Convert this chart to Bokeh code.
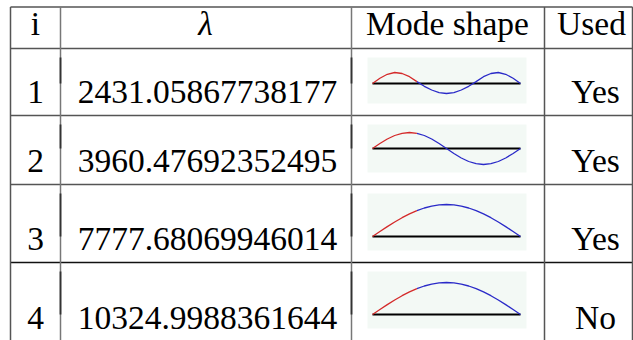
from bokeh.plotting import figure
from bokeh.models import Range1d
from bokeh.embed import file_html
from bokeh.resources import INLINE
from bokeh.core.properties import value

# ---- data ----
headers = ["i", "λ", "Mode shape", "Used"]
mode_index = ["1", "2", "3", "4"]
eigenvalues = ["2431.05867738177", "3960.47692352495", "7777.68069946014", "10324.9988361644"]
used = ["Yes", "Yes", "Yes", "No"]
# mode shape samples (thumbnail px, up positive) at 21 evenly spaced stations
shape_1 = [0, 5.2, 9.2, 11, 10, 6.8, 1.9, -2.8, -6.5, -9.1, -10, -9.1, -6.5, -2.8, 1.9, 6.8, 10, 11, 9.2, 5.2, 0]
shape_2 = [0, 5, 9.5, 13, 15.2, 16, 15.2, 13, 9.5, 5, 0, -5, -9.5, -13, -15.2, -16, -15.2, -13, -9.5, -5, 0]
shape_3 = [0, 5, 9.9, 14.5, 18.8, 22.6, 25.9, 28.5, 30.4, 31.6, 32, 31.6, 30.4, 28.5, 25.9, 22.6, 18.8, 14.5, 9.9, 5, 0]
shape_4 = [0, 5, 9.9, 14.5, 18.8, 22.6, 25.9, 28.5, 30.4, 31.6, 32, 31.6, 30.4, 28.5, 25.9, 22.6, 18.8, 14.5, 9.9, 5, 0]
shapes = [shape_1, shape_2, shape_3, shape_4]
red_until = 6  # station index where the red part ends

# ---- layout ----
W, H = 633, 340
col_edges = [10, 60, 351, 544, 632]
row_edges = [6.5, 48, 115, 184, 262, 341]
header_baseline = 23
row_baseline_gap = 24
col_text_x = [35, 207, 447, 595]
header_text_x = [35, 205, 447, 591]
thumb_x0, thumb_x1 = 367, 526
curve_x0, curve_x1 = 372, 520
thumb_line_y = [83, 148, 236, 314]
thumb_top = [57, 124, 193, 271]
thumb_bottom = [103, 172, 250, 328]
FONT = "Liberation Serif"
FS = "33.5px"

p = figure(width=W, height=H, x_range=Range1d(0, W), y_range=Range1d(H, 0),
           output_backend="svg", toolbar_location=None, min_border=0)
p.axis.visible = False
p.grid.visible = False
p.outline_line_color = None
p.background_fill_color = "white"
p.border_fill_color = "white"

# thumbnails background
p.quad(left=[thumb_x0] * 4, right=[thumb_x1] * 4, top=thumb_top, bottom=thumb_bottom,
       fill_color="#f3f9f5", line_color=None)

# table lines
for k, y in enumerate(row_edges[:-1]):
    color = "#111111" if k == 4 else "#555555"
    p.segment(x0=[col_edges[0]], x1=[col_edges[-1]], y0=[y], y1=[y], line_color=color, line_width=1.6)
for k, x in enumerate(col_edges):
    color = "#777777" if k in (1, 2) else "#555555"
    p.segment(x0=[x], x1=[x], y0=[row_edges[0]], y1=[H + 2], line_color=color, line_width=1.5)
# darker strut stubs on inner column lines
for x in (col_edges[1], col_edges[2]):
    p.segment(x0=[x] * 4, x1=[x] * 4, y0=thumb_top, y1=thumb_line_y,
              line_color="#333333", line_width=1.8)

# mode shapes
n = len(shape_1)
xs_all = [curve_x0 + (curve_x1 - curve_x0) * k / (n - 1) for k in range(n)]
for r, shp in enumerate(shapes):
    ly = thumb_line_y[r]
    p.line([curve_x0, curve_x1], [ly, ly], line_color="black", line_width=1.8)
    ys = [ly - v for v in shp]
    p.line(xs_all[red_until:], ys[red_until:], line_color="#2a2ac8", line_width=1.3)
    p.line(xs_all[:red_until + 1], ys[:red_until + 1], line_color="#d42a2a", line_width=1.3)

# header text
for c, h in enumerate(headers):
    p.text(x=[header_text_x[c]], y=[header_baseline], text=[h], text_font=value(FONT),
           text_font_size=FS, text_align="center", text_baseline="alphabetic",
           text_color="black", text_font_style="italic" if c == 1 else "normal")

# body text
baselines = [row_edges[r + 2] - row_baseline_gap for r in range(4)]
for c, col in enumerate([mode_index, eigenvalues, None, used]):
    if col is None:
        continue
    p.text(x=[col_text_x[c]] * 4, y=baselines, text=col, text_font=value(FONT),
           text_font_size=FS, text_align="center", text_baseline="alphabetic",
           text_color="black")

open("out.html", "w").write(file_html(p, INLINE))
